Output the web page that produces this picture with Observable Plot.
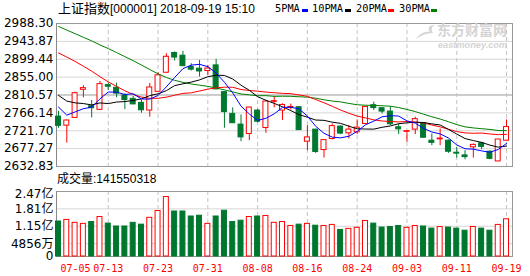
<!DOCTYPE html>
<html><head><meta charset="utf-8">
<script src="https://cdn.jsdelivr.net/npm/d3@7"></script>
<script src="https://cdn.jsdelivr.net/npm/@observablehq/plot@0.6"></script>
<style>
html,body{margin:0;padding:0;background:#fff;}
#wrap{position:relative;width:530px;height:276px;overflow:hidden;background:#fff;}
#wrap > svg{position:absolute;left:0;}
.t{position:absolute;white-space:nowrap;line-height:12px;color:#000;}
.lg{position:absolute;white-space:nowrap;font-family:'DejaVu Sans Mono',monospace;font-size:10.3px;line-height:11px;top:3px;}
.mk{position:absolute;width:6px;height:3px;top:9px;}
.wm{position:absolute;white-space:nowrap;color:#d4d4d4;font-weight:bold;}
</style></head><body>
<div id="wrap">
  <div class="t" style="left:58px;top:3px;font-family:'Liberation Sans','Noto Sans CJK SC',sans-serif;font-size:12px;"><span style="font-size:13px">上证指数</span>[000001] 2018-09-19 15:10</div>
  <div class="lg" style="left:275px">5PMA</div><div class="mk" style="left:302px;background:#0000ff"></div>
  <div class="lg" style="left:312px">10PMA</div><div class="mk" style="left:345px;background:#000"></div>
  <div class="lg" style="left:356px">20PMA</div><div class="mk" style="left:388px;background:#ff0000"></div>
  <div class="lg" style="left:399px">30PMA</div><div class="mk" style="left:431px;background:#008000"></div>
  <div class="t" style="left:57px;top:173px;font-family:'Liberation Sans','Noto Sans CJK SC',sans-serif;font-size:12px;">成交量:141550318</div>
</div>
<script>
const dates = ["07-05","07-06","07-09","07-10","07-11","07-12","07-13","07-16","07-17","07-18",
"07-19","07-20","07-23","07-24","07-25","07-26","07-27","07-30","07-31","08-01",
"08-02","08-03","08-06","08-07","08-08","08-09","08-10","08-13","08-14","08-15",
"08-16","08-17","08-20","08-21","08-22","08-23","08-24","08-27","08-28","08-29",
"08-30","08-31","09-03","09-04","09-05","09-06","09-07","09-10","09-11","09-12",
"09-13","09-14","09-17","09-18","09-19"];
const open = [2756.9,2734.5,2753.6,2823.5,2782.7,2773.6,2835.1,2828.5,2809.3,2801.0,
2791.0,2771.9,2818.5,2865.9,2915.0,2908.3,2880.1,2875.9,2870.1,2884.2,
2817.7,2763.6,2737.0,2713.7,2771.9,2728.6,2793.5,2771.9,2779.0,2780.2,
2694.5,2724.5,2673.7,2701.2,2732.0,2715.3,2717.8,2738.6,2785.2,2777.7,
2769.4,2730.3,2719.0,2724.5,2740.3,2697.0,2700.3,2697.0,2667.1,2660.4,
2680.4,2690.4,2669.6,2645.4,2697.0];
const high = [2770.0,2748.0,2817.7,2833.5,2796.9,2844.3,2840.0,2840.0,2813.5,2806.8,
2796.9,2839.3,2865.9,2913.3,2917.5,2919.2,2888.4,2896.7,2884.2,2899.2,
2818.5,2778.6,2761.0,2780.0,2775.0,2796.0,2806.8,2788.5,2788.0,2781.0,
2734.5,2725.0,2699.0,2738.6,2734.5,2734.5,2748.6,2781.5,2792.7,2778.5,
2781.9,2738.6,2722.0,2755.3,2741.0,2713.7,2726.1,2698.5,2680.4,2672.1,
2688.7,2692.9,2672.1,2700.0,2748.6];
const low = [2728.0,2691.0,2753.0,2803.5,2753.6,2772.0,2821.8,2803.5,2774.4,2786.0,
2765.2,2755.3,2817.0,2865.0,2895.0,2882.0,2870.1,2855.1,2859.3,2824.0,
2727.8,2740.0,2694.5,2697.0,2741.0,2715.3,2778.6,2747.0,2773.0,2723.0,
2672.1,2665.4,2653.8,2699.0,2712.0,2701.2,2712.0,2738.0,2771.9,2763.6,
2734.5,2712.0,2692.9,2712.0,2704.0,2684.5,2684.5,2665.4,2653.8,2649.6,
2653.8,2674.6,2649.6,2645.0,2696.0];
const close = [2733.88,2747.23,2815.11,2827.63,2777.77,2837.66,2831.18,2814.04,2798.13,2787.26,
2772.55,2829.27,2859.54,2905.56,2903.65,2882.23,2873.59,2869.05,2876.40,2824.53,
2768.02,2740.44,2705.16,2779.37,2744.07,2794.38,2795.31,2785.87,2780.96,2723.26,
2705.19,2668.97,2698.47,2733.19,2714.61,2724.62,2729.43,2780.90,2777.98,2769.30,
2737.74,2725.25,2720.73,2750.58,2704.34,2691.59,2702.30,2669.48,2664.80,2656.11,
2686.57,2681.64,2651.79,2699.95,2730.85];
// volume in 亿 (hundred-million lots)
const volume = [1.33,1.39,1.28,1.24,1.31,1.50,1.25,1.14,1.14,1.28,
1.21,1.47,1.73,2.26,1.71,1.71,1.52,1.55,1.24,1.52,
1.74,1.31,1.36,1.50,1.52,1.54,1.28,1.31,1.16,1.21,
1.24,1.17,1.16,1.20,1.01,1.05,1.09,1.35,1.25,1.10,
1.12,1.16,1.09,1.16,1.14,1.06,1.12,1.10,1.06,0.98,
1.12,1.06,0.98,1.20,1.4155];
const ma5 = [2780.6,2760.5,2768.4,2776.6,2780.3,2801.1,2817.9,2817.7,2811.8,2813.7,
2800.6,2800.3,2809.4,2830.8,2854.1,2876.1,2884.9,2886.8,2881.0,2865.2,
2842.3,2815.7,2782.9,2763.5,2747.4,2752.7,2763.7,2779.8,2780.1,2776.0,
2758.1,2732.9,2715.4,2705.8,2704.1,2708.0,2720.1,2736.6,2745.5,2756.4,
2759.1,2758.2,2746.2,2740.7,2727.7,2718.5,2713.9,2703.7,2686.5,2676.9,
2675.9,2671.7,2668.2,2675.2,2690.2];
const ma10 = [2809.7,2795.4,2791.0,2789.3,2785.8,2790.9,2789.2,2793.1,2794.2,2797.0,
2800.9,2809.1,2813.6,2821.3,2833.9,2838.4,2842.6,2848.1,2855.9,2859.7,
2859.2,2850.3,2834.9,2822.3,2806.3,2797.5,2789.7,2781.4,2771.8,2761.7,
2755.4,2748.3,2747.6,2743.0,2740.1,2733.1,2726.5,2726.0,2725.7,2730.3,
2733.6,2739.2,2741.4,2743.1,2742.1,2738.8,2736.1,2725.0,2713.6,2702.3,
2697.2,2692.8,2686.0,2680.9,2683.6];
const ma20 = [2915,2905,2894,2882,2870,2856,2843,2832,2821,2812,
2805.3,2802.3,2802.3,2805.3,2809.9,2814.6,2815.9,2820.6,2825.1,2828.3,
2830.0,2829.7,2824.2,2821.8,2820.1,2817.9,2816.2,2814.7,2813.9,2810.7,
2807.3,2799.3,2791.2,2782.6,2773.2,2765.3,2758.1,2753.7,2748.7,2746.0,
2744.5,2743.7,2744.5,2743.0,2741.1,2735.9,2731.3,2725.5,2719.6,2716.3,
2715.4,2716.0,2713.7,2712.0,2712.8];
const ma30 = [2981,2972,2963,2954,2945,2935,2926,2916,2906,2896,
2885,2874,2863,2854,2847,2842,2838,2835,2832,2828,
2823.3,2818.3,2813.1,2811.0,2808.7,2808.9,2807.2,2807.5,2807.3,2806.1,
2805.2,2802.6,2798.7,2795.5,2793.4,2789.6,2786.3,2785.2,2784.5,2783.9,
2782.7,2779.3,2774.6,2769.4,2762.8,2756.5,2750.8,2744.1,2737.0,2731.4,
2728.7,2726.8,2725.0,2722.3,2721.9];
const priceTicks = [2632.83,2677.27,2721.70,2766.14,2810.57,2855.00,2899.44,2943.87,2988.30];
const volTicks = [0,0.4856,1.15,1.81,2.47];
const volTickLabels = ["0","4856万","1.15亿","1.81亿","2.47亿"];
const xTickLabels = ["07-05","07-13","07-23","07-31","08-08","08-16","08-24","09-03","09-11","09-19"];

const rows = dates.map((d,i)=>({i,d,o:open[i],h:high[i],l:low[i],c:close[i],v:volume[i],
  ma5:ma5[i],ma10:ma10[i],ma20:ma20[i],ma30:ma30[i]}));
const GREEN = "#00772f", RED = "#ff0000";
const isUp = r => r.c >= r.o;
const xTickIdx = xTickLabels.map(s => dates.indexOf(s));
const gridIdx = xTickIdx.slice(1);
const xDomain = [-0.24, 54.72];
const HALF = 0.3;
const baseStyle = {fontFamily:"'DejaVu Sans','Noto Sans CJK SC',sans-serif", fontSize:"12px", background:"transparent", overflow:"visible", color:"#000"};
const volLabel = d => volTickLabels[volTicks.indexOf(d)];

const main = Plot.plot({
  width:530, height:170, marginLeft:56, marginRight:18, marginTop:23, marginBottom:4,
  x:{domain:xDomain, axis:null, label:null},
  y:{domain:[priceTicks[0], priceTicks[priceTicks.length-1]], axis:null, label:null},
  style: baseStyle,
  marks:[
    Plot.ruleY(priceTicks.filter((t,k)=>k!==4), {stroke:"#d6d6d6"}),
    Plot.ruleY([priceTicks[4]], {stroke:"#9a9a9a"}),
    Plot.ruleX(gridIdx, {stroke:"#c4c4c4", strokeDasharray:"4,3"}),
    Plot.frame({stroke:"#999"}),
    Plot.ruleX([xDomain[0]], {stroke:"#888"}),
    Plot.axisY({ticks:priceTicks, tickFormat:d=>d.toFixed(2), tickSize:0, tickPadding:3, fill:"#000", label:null}),
    Plot.ruleX(rows, {x:"i", y1:"l", y2:"h", stroke:r=>isUp(r)?RED:GREEN}),
    Plot.rect(rows, {x1:r=>r.i-HALF, x2:r=>r.i+HALF, y1:"o", y2:"c", fill:r=>isUp(r)?"#fff":GREEN, stroke:r=>isUp(r)?RED:GREEN}),
    Plot.line(rows, {x:"i", y:"ma30", stroke:"#008000", strokeWidth:1}),
    Plot.line(rows, {x:"i", y:"ma20", stroke:"#ff0000", strokeWidth:1}),
    Plot.line(rows, {x:"i", y:"ma10", stroke:"#000000", strokeWidth:1}),
    Plot.line(rows, {x:"i", y:"ma5", stroke:"#0000ff", strokeWidth:1})
  ]
});
main.style.top = "0px";

const vol = Plot.plot({
  width:530, height:106, marginLeft:56, marginRight:18, marginTop:21, marginBottom:20,
  x:{domain:xDomain, axis:null, label:null},
  y:{domain:[0, volTicks[volTicks.length-1]], axis:null, label:null},
  style: baseStyle,
  marks:[
    Plot.ruleY(volTicks.slice(1,4), {stroke:"#d6d6d6"}),
    Plot.ruleX(gridIdx, {stroke:"#c4c4c4", strokeDasharray:"4,3"}),
    Plot.frame({stroke:"#999"}),
    Plot.ruleX([xDomain[0]], {stroke:"#888"}),
    Plot.rect(rows, {x1:r=>r.i-HALF, x2:r=>r.i+HALF, y1:0, y2:"v", fill:r=>isUp(r)?"#fff":GREEN, stroke:r=>isUp(r)?RED:GREEN}),
    Plot.axisY({ticks:volTicks.slice(0,4), tickFormat:volLabel, tickSize:0, tickPadding:3, fill:"#000", label:null}),
    Plot.text(volTicks.slice(4), {y:d=>d, text:volLabel, frameAnchor:"left", dx:-3, dy:3, textAnchor:"end", fill:"#000"}),
    Plot.text([xTickIdx[0]], {x:d=>d, text:d=>dates[d], frameAnchor:"bottom", lineAnchor:"bottom", dy:15, dx:2, textAnchor:"start", fill:RED, fontFamily:"'DejaVu Sans Mono',monospace", fontSize:10}),
    Plot.text(xTickIdx.slice(1), {x:d=>d, text:d=>dates[d], frameAnchor:"bottom", lineAnchor:"bottom", dy:15, textAnchor:"middle", fill:RED, fontFamily:"'DejaVu Sans Mono',monospace", fontSize:10})
  ]
});
vol.style.top = "170px";

const wrap = document.getElementById("wrap");
wrap.append(main, vol);
// watermark (logo swirl + text)
const ns = "http://www.w3.org/2000/svg";
const logo = document.createElementNS(ns, "svg");
logo.setAttribute("width", "22"); logo.setAttribute("height", "16");
logo.style.cssText = "position:absolute;left:414px;top:24px;";
const p = document.createElementNS(ns, "path");
p.setAttribute("d", "M2 15 C6 9 12 7 16 8 C13 4 15 1 21 1 C17 3 17 6 19 9 C13 9 7 11 2 15 Z");
p.setAttribute("fill", "#d4d4d4");
logo.appendChild(p);
const wm1 = document.createElement("div");
wm1.className = "wm";
wm1.style.cssText = "left:437px;top:22px;font-family:'Noto Sans CJK SC';font-size:14px;line-height:15px;";
wm1.textContent = "东方财富网";
const wm2 = document.createElement("div");
wm2.className = "wm";
wm2.style.cssText = "left:438px;top:41px;font-family:'Liberation Sans';font-style:italic;font-size:9.2px;line-height:9px;";
wm2.textContent = "eastmoney.com";
wrap.append(logo, wm1, wm2);
</script>
</body></html>
